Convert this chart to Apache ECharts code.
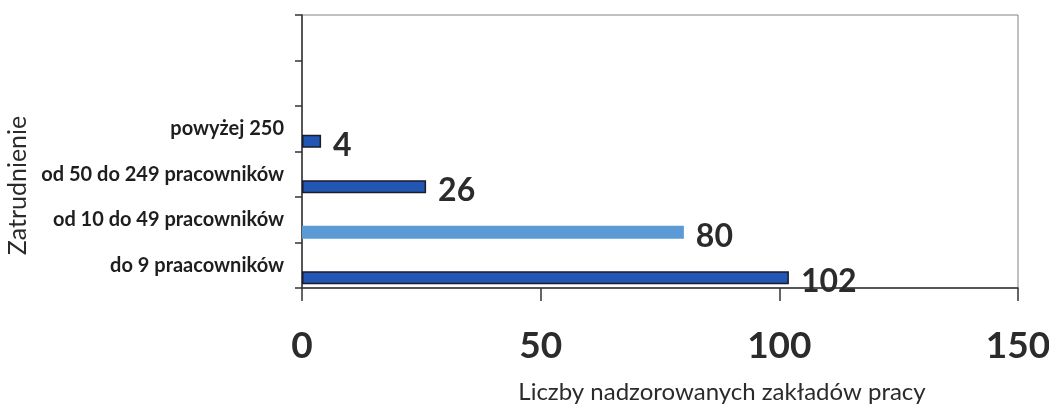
<!DOCTYPE html>
<html>
<head>
<meta charset="utf-8">
<script src="https://cdn.jsdelivr.net/npm/echarts@6/dist/echarts.min.js"></script>
<style>
  html, body { margin: 0; padding: 0; background: #fff; }
  #chart { width: 1049px; height: 405px; }
</style>
</head>
<body>
<div id="chart"></div>
<script>
// kategorie od dołu osi, dwie puste na górze
const categories = ['do 9 praacowników', 'od 10 do 49 pracowników', 'od 50 do 249 pracowników', 'powyżej 250', '', ''];
const values = [102, 80, 26, 4, null, null];
const xTicks = [0, 50, 100, 150];

const darkBlue = '#2156b3';
const lightBlue = '#5b9bd5';

const chart = echarts.init(document.getElementById('chart'));

const barData = values.map((v, i) => ({
  value: v,
  itemStyle: i === 1
    ? { color: lightBlue, borderWidth: 0 }
    : { color: darkBlue, borderColor: '#1b1b2a', borderWidth: 1.5 }
}));

const option = {
  animation: false,
  grid: {
    left: 302, right: 31, top: 15, bottom: 117,
    outerBoundsMode: 'none',
    show: true, borderColor: '#8a8080', borderWidth: 1
  },
  xAxis: {
    type: 'value',
    min: xTicks[0],
    max: xTicks[xTicks.length - 1],
    interval: 50,
    splitLine: { show: false },
    axisLine: { show: true, lineStyle: { color: '#333', width: 1.5 } },
    axisTick: { show: true, length: 13, lineStyle: { color: '#333', width: 1.5 } },
    axisLabel: {
      margin: 40,
      fontFamily: 'Lato',
      fontWeight: 'bold',
      fontSize: 37,
      color: '#2b2b2b'
    },
    name: 'Liczby nadzorowanych zakładów pracy',
    nameLocation: 'middle',
    nameGap: 92,
    nameTextStyle: {
      fontFamily: 'Lato',
      fontSize: 24,
      color: '#2b2b2b',
      padding: [0, 0, 0, 124]
    }
  },
  yAxis: {
    type: 'category',
    data: categories,
    axisLine: { show: true, lineStyle: { color: '#333', width: 1.5 } },
    axisTick: { show: true, length: 7, lineStyle: { color: '#333', width: 1.5 } },
    axisLabel: {
      margin: 18,
      fontFamily: 'Lato',
      fontWeight: 'bold',
      fontSize: 20,
      color: '#1e1e1e'
    },
    name: 'Zatrudnienie',
    nameLocation: 'middle',
    nameRotate: 90,
    nameGap: 270,
    nameTextStyle: {
      fontFamily: 'Lato',
      fontSize: 25,
      color: '#2b2b2b',
      padding: [0, 68, 0, 0]
    }
  },
  series: [
    {
      // pusty odstęp, przesuwa słupki w dół w każdym wierszu
      type: 'bar',
      data: [],
      barWidth: 13,
      barGap: '92%',
      silent: true
    },
    {
      type: 'bar',
      data: barData,
      barWidth: 13,
      barGap: '92%',
      label: {
        show: true,
        position: 'right',
        distance: 12,
        offset: [0, 4],
        fontFamily: 'Lato',
        fontWeight: 'bold',
        fontSize: 32,
        color: '#2b2b2b'
      }
    }
  ]
};

chart.setOption(option);
</script>
</body>
</html>
